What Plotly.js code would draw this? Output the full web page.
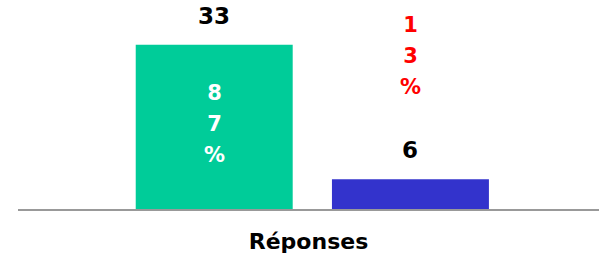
<!DOCTYPE html>
<html>
<head>
<meta charset="utf-8">
<script src="https://cdn.plot.ly/plotly-3.0.1.min.js"></script>
<style>
  html, body { margin: 0; padding: 0; background: #ffffff; }
  #chart { width: 599px; height: 257px; }
</style>
</head>
<body>
<div id="chart"></div>
<script>
// ---- data ----
const categories = ["Oui", "Non"];
const counts = [33, 6];
const percentLabels = ["87%", "13%"];
const barColors = ["#00CC99", "#3333CC"];
const percentColors = ["#FFFFFF", "#FF0000"];
const axisTitle = "Réponses";

const FONT = "DejaVu Sans, Arial, sans-serif";

const trace = {
  type: "bar",
  x: categories,
  y: counts,
  marker: { color: barColors, line: { width: 0 } },
  hoverinfo: "skip",
  showlegend: false
};

// stacked (one character per line) percentage labels
function stackChars(s) {
  return s.split("").map(c => "<span style='font-size:21px'>" + c + "</span>").join("<br>");
}

const annotations = [];
categories.forEach((c, i) => {
  // count label above each bar
  annotations.push({
    x: c, y: counts[i], xref: "x", yref: "y",
    text: String(counts[i]),
    showarrow: false, yanchor: "bottom", yshift: 14,
    font: { family: FONT, size: 23, color: "#000000", weight: "bold" }
  });
});
// percentage inside the green bar (middle of the bar)
annotations.push({
  x: categories[0], y: counts[0] / 2, xref: "x", yref: "y",
  text: stackChars(percentLabels[0]),
  showarrow: false, yanchor: "middle", yshift: 3,
  font: { family: FONT, size: 24, color: percentColors[0], weight: "bold" }
});
// percentage above the blue bar
annotations.push({
  x: categories[1], y: 30.6, xref: "x", yref: "y",
  text: stackChars(percentLabels[1]),
  showarrow: false, yanchor: "middle", yshift: 1,
  font: { family: FONT, size: 24, color: percentColors[1], weight: "bold" }
});

const layout = {
  width: 599, height: 257,
  margin: { l: 18, r: 0, t: 0, b: 48, pad: 0 },
  paper_bgcolor: "#ffffff",
  plot_bgcolor: "#ffffff",
  bargap: 0.2,
  xaxis: {
    type: "category",
    range: [-1, 1.961],
    showticklabels: false,
    ticks: "",
    showgrid: false,
    zeroline: false,
    showline: true,
    linecolor: "#999999",
    linewidth: 2,
    title: { text: axisTitle, standoff: 24, font: { family: FONT, size: 22, color: "#000000", weight: "bold" } }
  },
  yaxis: {
    range: [0, 42],
    visible: false,
    showgrid: false,
    zeroline: false
  },
  annotations: annotations
};

Plotly.newPlot("chart", [trace], layout, { displayModeBar: false, staticPlot: true });
</script>
</body>
</html>
